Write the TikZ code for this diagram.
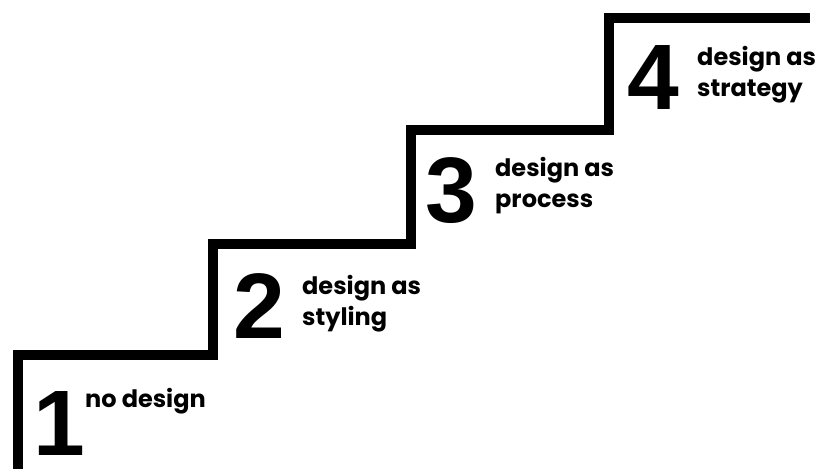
\documentclass[tikz,border=0pt]{standalone}
\usepackage{fontspec}
\newfontfamily\labelfont{Poppins}
\newfontfamily\digitfont{Liberation Sans}
\begin{document}
\begin{tikzpicture}[x=1pt,y=1pt,
  stairs/.style={line width=10pt, line join=miter, line cap=butt, black},
  stepnum/.style={anchor=base west, inner sep=0pt, font=\digitfont\bfseries\fontsize{93}{93}\selectfont},
  steplabel/.style={anchor=base west, inner sep=0pt, align=left, font=\labelfont\bfseries\fontsize{24}{31}\selectfont}]
  \useasboundingbox (0,0) rectangle (823,469);
  % staircase outline
  \coordinate (s0) at (18,-6);
  \coordinate (s1) at (18,114);
  \coordinate (s2) at (213,114);
  \coordinate (s3) at (213,225);
  \coordinate (s4) at (411,225);
  \coordinate (s5) at (411,339);
  \coordinate (s6) at (609,339);
  \coordinate (s7) at (609,451);
  \coordinate (s8) at (810,451);
  \draw[stairs] (s0) -- (s1) -- (s2) -- (s3) -- (s4) -- (s5) -- (s6) -- (s7) -- (s8);
  % step numbers
  \node[stepnum] (n1) at (33,13) {1};
  \node[stepnum] (n2) at (233,130) {2};
  \node[stepnum] (n3) at (425,246) {3};
  \node[stepnum] (n4) at (627,359) {4};
  % step labels (a two-line label sits on the baseline of its last line)
  \node[steplabel] (l1) at (85,61) {no design};
  \node[steplabel] (l2) at (302,143) {design as\\styling};
  \node[steplabel] (l3) at (495,261) {design as\\process};
  \node[steplabel] (l4) at (697,372) {design as\\strategy};
\end{tikzpicture}
\end{document}
